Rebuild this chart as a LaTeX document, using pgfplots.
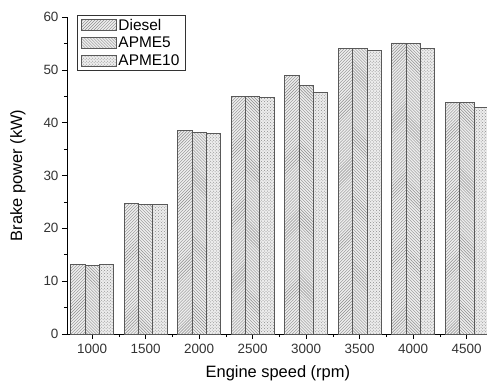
\documentclass[border=0pt]{standalone}
\usepackage{fontspec}
\setmainfont{Liberation Sans}
\usepackage{pgfplots}
\pgfplotsset{compat=1.18}
\usetikzlibrary{patterns}
\definecolor{edgec}{gray}{0.35}
\definecolor{fillc}{gray}{0.93}
\definecolor{patc}{gray}{0.55}
\pgfplotsset{ybar legend/.style={legend image code/.code={\draw[##1,bar shift=0pt] (0bp,-5.5bp) rectangle (35bp,5.5bp);}}}
\begin{document}
\begin{tikzpicture}
\begin{axis}[
  scale only axis, width=420bp, height=317bp,
  ybar, bar width=0.267,
  xmin=-0.47, xmax=7.38, ymin=0, ymax=60,
  axis x line*=bottom, axis y line*=left,
  xtick={0,...,7}, xticklabels={1000,1500,2000,2500,3000,3500,4000,4500},
  minor xtick={0.5,1.5,...,6.5},
  ytick={0,10,...,60}, minor ytick={5,15,...,55},
  tick align=outside, major tick length=5bp, minor tick length=3bp,
  tick style={black, line width=0.6bp},
  axis line style={black, line width=0.8bp},
  /pgf/number format/assume math mode=true,
  ticklabel style={font=\fontsize{13.5}{15}\selectfont, text=black!80},
  xticklabel style={yshift=-2bp},
  xlabel={Engine speed (rpm)}, ylabel={Brake power (kW)},
  label style={font=\fontsize{16.5}{19}\selectfont},
  xlabel style={at={(axis description cs:0.502,-0.123)}, anchor=center},
  ylabel style={at={(axis description cs:-0.117,0.50)}, anchor=center, rotate=0},
  legend style={at={(rel axis cs:0.024,1.006)}, anchor=north west,
    draw=black!80, line width=0.6bp, font=\fontsize{15.5}{17}\selectfont,
    inner ysep=1.5bp, inner xsep=3.5bp, row sep=1.5bp, cells={anchor=west},
    /tikz/every even column/.append style={column sep=2.5bp}},
  legend cell align=left,
]
\addplot[bar shift=-0.267, draw=edgec, line width=0.6bp, fill=fillc,
  postaction={pattern=north east lines, pattern color=patc}]
  coordinates {(0,13.1) (1,24.7) (2,38.6) (3,45.0) (4,48.9) (5,54.1) (6,55.1) (7,43.9)};
\addplot[bar shift=0, draw=edgec, line width=0.6bp, fill=fillc,
  postaction={pattern=north west lines, pattern color=patc}]
  coordinates {(0,13.0) (1,24.6) (2,38.1) (3,44.9) (4,47.0) (5,54.0) (6,55.0) (7,43.8)};
\addplot[bar shift=0.267, draw=edgec, line width=0.6bp, fill=fillc,
  postaction={pattern=crosshatch dots, pattern color=patc}]
  coordinates {(0,13.1) (1,24.5) (2,38.0) (3,44.8) (4,45.7) (5,53.7) (6,54.1) (7,42.9)};
\legend{Diesel,APME5,APME10}
\coordinate (O) at (rel axis cs:0,0);
\end{axis}
\pgfresetboundingbox
\path ([shift={(-67bp,-50bp)}]O) rectangle ([shift={(420bp,334bp)}]O);
\end{tikzpicture}
\end{document}
